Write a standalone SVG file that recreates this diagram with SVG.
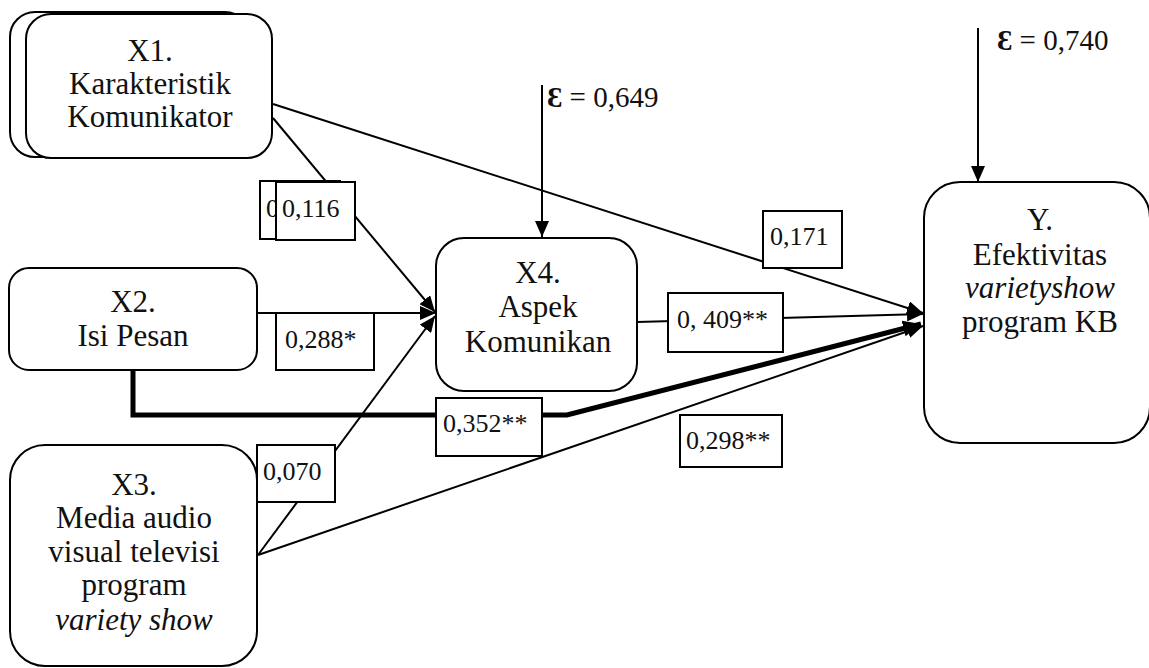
<svg xmlns="http://www.w3.org/2000/svg" width="1149" height="668" viewBox="0 0 1149 668">
<style>
.node{fill:#fff;stroke:#000;stroke-width:2}
.nt{font-family:"Liberation Serif","DejaVu Serif",serif;font-size:31px;fill:#111;text-anchor:middle}
.it{font-style:italic}
.ln{fill:none;stroke:#000;stroke-width:2}
.thick{fill:none;stroke:#000;stroke-width:5}
.lb{fill:#fff;stroke:#000;stroke-width:2}
.lt{font-family:"Liberation Serif","Times New Roman",serif;font-size:26px;fill:#111}
.eps{font-family:"Liberation Serif","DejaVu Serif",serif;font-size:29px;fill:#111}
</style>
<defs>
<marker id="ah" markerWidth="16" markerHeight="14" refX="16" refY="7" orient="auto" markerUnits="userSpaceOnUse"><path d="M0,0 L16,7 L0,14 z" fill="#000"/></marker>
<marker id="ahb" markerWidth="18" markerHeight="16" refX="18" refY="8" orient="auto" markerUnits="userSpaceOnUse"><path d="M0,0 L18,8 L0,16 z" fill="#000"/></marker>
<clipPath id="backclip"><rect x="259" y="180" width="17" height="60"/></clipPath>
</defs>
<rect width="1149" height="668" fill="#fff"/>
<g id="connectors">
<line class="ln" x1="273" y1="104" x2="923" y2="313" marker-end="url(#ah)"/>
<line class="ln" x1="273" y1="118" x2="435" y2="312" marker-end="url(#ah)"/>
<line class="ln" x1="257" y1="313" x2="436" y2="313" marker-end="url(#ah)"/>
<line class="ln" x1="258" y1="555" x2="435" y2="316" marker-end="url(#ah)"/>
<line class="ln" x1="637" y1="322" x2="923" y2="314" marker-end="url(#ah)"/>
<polyline class="thick" points="133,370 133,415 567,415 921,324" marker-end="url(#ahb)"/>
<line class="ln" x1="258" y1="555" x2="923" y2="326" marker-end="url(#ah)"/>
<line class="ln" x1="542" y1="85" x2="542" y2="237" marker-end="url(#ah)"/>
<line class="ln" x1="978" y1="28" x2="978" y2="182" marker-end="url(#ah)"/>
</g>
<g id="labels">
<rect class="lb" x="260" y="181" width="80" height="58"/>
<text class="lt" x="266" y="217" clip-path="url(#backclip)">0</text>
<rect class="lb" x="276" y="182" width="79" height="58"/>
<text class="lt" x="282" y="217">0,116</text>
<rect class="lb" x="276" y="313" width="98" height="57"/>
<text class="lt" x="285" y="348">0,288*</text>
<rect class="lb" x="257" y="445" width="78" height="57"/>
<text class="lt" x="263" y="480">0,070</text>
<rect class="lb" x="436" y="398" width="106" height="58"/>
<text class="lt" x="443" y="432">0,352**</text>
<rect class="lb" x="668" y="293" width="115" height="59"/>
<text class="lt" x="677" y="328">0, 409**</text>
<rect class="lb" x="763" y="211" width="79" height="57"/>
<text class="lt" x="770" y="245">0,171</text>
<rect class="lb" x="680" y="415" width="102" height="52"/>
<text class="lt" x="686" y="449">0,298**</text>
<text class="eps" x="547" y="107"><tspan font-weight="bold">Ɛ</tspan> = 0,649</text>
<text class="eps" x="997" y="50"><tspan font-weight="bold">Ɛ</tspan> = 0,740</text>
</g>
<g id="X1">
<rect class="node" x="10" y="12" width="240" height="145" rx="25"/>
<rect class="node" x="26" y="14" width="246" height="144" rx="25"/>
<text class="nt" x="150" y="61">X1.</text>
<text class="nt" x="150" y="94">Karakteristik</text>
<text class="nt" x="150" y="127">Komunikator</text>
</g>
<g id="X2">
<rect class="node" x="9" y="268" width="248" height="102" rx="20"/>
<text class="nt" x="133" y="312">X2.</text>
<text class="nt" x="133" y="346">Isi Pesan</text>
</g>
<g id="X3">
<rect class="node" x="10" y="445" width="247" height="221" rx="35"/>
<text class="nt" x="134" y="495">X3.</text>
<text class="nt" x="134" y="528">Media audio</text>
<text class="nt" x="134" y="562">visual televisi</text>
<text class="nt" x="134" y="595">program</text>
<text class="nt it" x="134" y="630">variety show</text>
</g>
<g id="X4">
<rect class="node" x="436" y="238" width="201" height="153" rx="28"/>
<text class="nt" x="538" y="283">X4.</text>
<text class="nt" x="538" y="317">Aspek</text>
<text class="nt" x="538" y="352">Komunikan</text>
</g>
<g id="Y">
<rect class="node" x="924" y="182" width="226" height="261" rx="36"/>
<text class="nt" x="1040" y="230">Y.</text>
<text class="nt" x="1040" y="265">Efektivitas</text>
<text class="nt it" x="1040" y="298">varietyshow</text>
<text class="nt" x="1040" y="332">program KB</text>
</g>
</svg>
